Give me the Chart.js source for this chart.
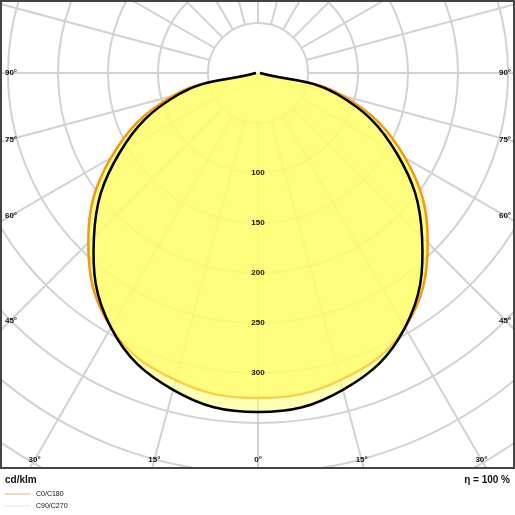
<!DOCTYPE html>
<html>
<head>
<meta charset="utf-8">
<script src="https://cdn.jsdelivr.net/npm/chart.js@4"></script>
<style>
  body { margin: 0; background: #fff; }
  #wrap { width: 515px; height: 515px; }
</style>
</head>
<body>
<div id="wrap"><canvas id="ldc"></canvas></div>
<script>
// angles in degrees from nadir, intensity in cd/klm
const angles = [-90, -75, -60, -45, -30, -15, 0, 15, 30, 45, 60, 75, 90];
const c0 = [2, 88, 170, 240, 294, 318, 325, 318, 294, 240, 170, 88, 2];
const c90 = [2, 82, 160, 232, 294, 328, 339, 328, 294, 232, 160, 82, 2];
const ringLabels = [100, 150, 200, 250, 300];
const sideLabels = [90, 75, 60, 45];
const bottomLabels = [30, 15, 0, 15, 30];

function toXY(vals) {
  return angles.map((a, i) => {
    const r = a * Math.PI / 180;
    return { x: vals[i] * Math.sin(r), y: -vals[i] * Math.cos(r) };
  });
}

const gridPlugin = {
  id: 'ldcGrid',
  beforeDatasetsDraw(chart) {
    const { ctx, chartArea: a, scales: { x, y } } = chart;
    const cx = x.getPixelForValue(0), cy = y.getPixelForValue(0);
    const k = x.getPixelForValue(1) - cx;
    ctx.save();
    ctx.beginPath();
    ctx.rect(a.left, a.top, a.right - a.left, a.bottom - a.top);
    ctx.clip();
    ctx.strokeStyle = '#d2d2d2';
    ctx.lineWidth = 2;
    for (let r = 50; r <= 600; r += 50) {
      ctx.beginPath();
      ctx.arc(cx, cy, r * k, 0, Math.PI * 2);
      ctx.stroke();
    }
    for (let d = 0; d < 360; d += 15) {
      const t = d * Math.PI / 180;
      ctx.beginPath();
      ctx.moveTo(cx + Math.sin(t) * 50 * k, cy + Math.cos(t) * 50 * k);
      ctx.lineTo(cx + Math.sin(t) * 800 * k, cy + Math.cos(t) * 800 * k);
      ctx.stroke();
    }
    ctx.restore();
  },
  afterDraw(chart) {
    const { ctx, chartArea: a, scales: { x, y } } = chart;
    const cx = x.getPixelForValue(0), cy = y.getPixelForValue(0);
    const k = x.getPixelForValue(1) - cx;
    ctx.save();
    ctx.fillStyle = '#111';
    ctx.font = 'bold 8px "Liberation Sans", Arial, sans-serif';
    ctx.textAlign = 'center';
    ctx.textBaseline = 'middle';
    ringLabels.forEach(v => ctx.fillText(v, cx, cy + v * k));
    const dx = cx - a.left - 8;
    sideLabels.forEach(d => {
      const yy = cy + dx / Math.tan(d * Math.PI / 180);
      ctx.fillText(d + '°', a.left + 9, yy);
      ctx.fillText(d + '°', a.right - 8, yy);
    });
    const by = a.bottom - 7;
    [-30, -15, 0, 15, 30].forEach((d, i) => {
      const xx = cx + (by - cy) * Math.tan(d * Math.PI / 180);
      ctx.fillText(bottomLabels[i] + '°', xx, by);
    });
    // frame
    ctx.strokeStyle = '#444';
    ctx.lineWidth = 2;
    ctx.strokeRect(a.left - 1, a.top - 1, a.right - a.left + 2, a.bottom - a.top + 2);
    // footer
    ctx.font = 'bold 10px "Liberation Sans", Arial, sans-serif';
    ctx.textAlign = 'left';
    ctx.fillText('cd/klm', 5, 480);
    ctx.textAlign = 'right';
    ctx.fillText('η = 100 %', 510, 480);
    ctx.font = '7px "Liberation Sans", Arial, sans-serif';
    ctx.textAlign = 'left';
    ctx.lineWidth = 1;
    ctx.strokeStyle = '#e0b070';
    ctx.beginPath(); ctx.moveTo(5, 494); ctx.lineTo(30, 494); ctx.stroke();
    ctx.fillText('C0/C180', 36, 494);
    ctx.strokeStyle = '#e4e4e4';
    ctx.beginPath(); ctx.moveTo(5, 506); ctx.lineTo(30, 506); ctx.stroke();
    ctx.fillText('C90/C270', 36, 506);
    ctx.restore();
  }
};

new Chart(document.getElementById('ldc'), {
  type: 'scatter',
  data: {
    datasets: [
      {
        label: 'C90/C270',
        data: toXY(c90),
        showLine: true,
        borderColor: '#000',
        borderWidth: 2.5,
        backgroundColor: 'rgba(255,255,120,0.55)',
        fill: 'shape',
        tension: 0.4,
        pointRadius: 0
      },
      {
        label: 'C0/C180',
        data: toXY(c0),
        showLine: true,
        borderColor: '#f09a10',
        borderWidth: 2.5,
        backgroundColor: 'rgba(255,250,90,0.75)',
        fill: 'shape',
        tension: 0.4,
        pointRadius: 0
      }
    ]
  },
  options: {
    responsive: true,
    maintainAspectRatio: false,
    animation: false,
    layout: { padding: { left: 2, right: 2, top: 2, bottom: 48 } },
    plugins: { legend: { display: false }, tooltip: { enabled: false } },
    scales: {
      x: { type: 'linear', min: -256, max: 255, display: false },
      y: { type: 'linear', min: -394, max: 71, display: false }
    }
  },
  plugins: [gridPlugin]
});
</script>
</body>
</html>
